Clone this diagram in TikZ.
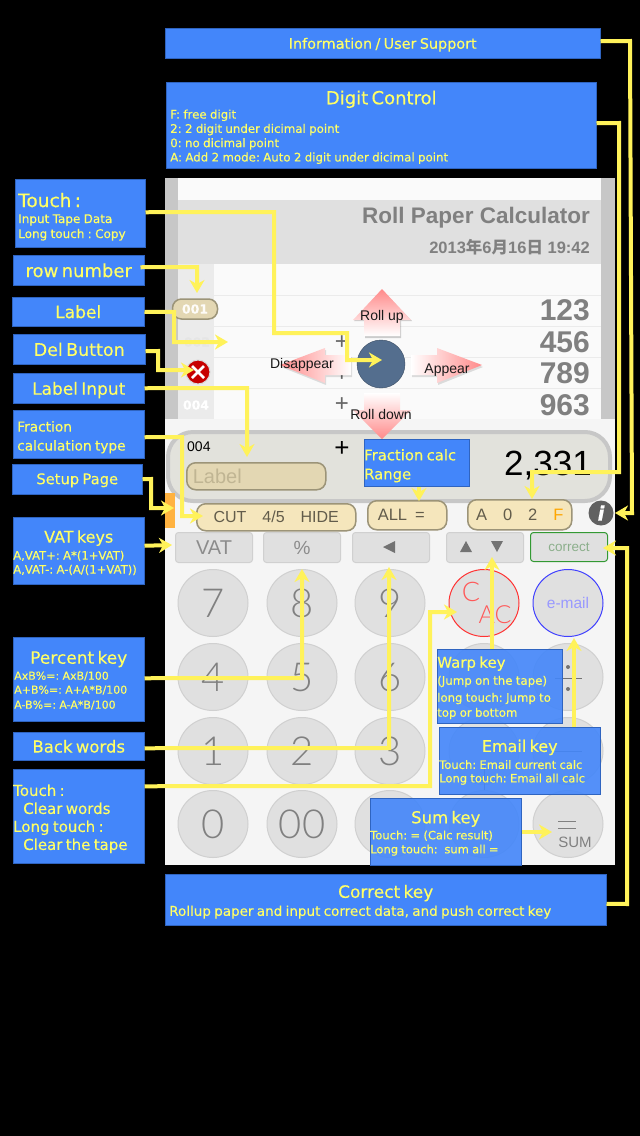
\documentclass[tikz,border=0pt]{standalone}
\usepackage{fontspec}
\setmainfont{DejaVu Sans}[FakeBold=0.25]
\newfontfamily\hv{Liberation Sans}
\newfontfamily\cjkf{Noto Sans CJK JP}
\newfontfamily\thinf{Lato Light}
\usetikzlibrary{arrows.meta,shapes.geometric}
\frenchspacing
\definecolor{boxblue}{HTML}{4386FA}
\definecolor{boxedge}{HTML}{2F64C0}
\definecolor{ytext}{HTML}{FFFF66}
\definecolor{yline}{HTML}{FFF25A}
\definecolor{pill}{HTML}{F5E6BC}
\definecolor{pilledge}{HTML}{9C9478}
\definecolor{keyg}{HTML}{E0E0E0}
\definecolor{keye}{HTML}{D0D0D0}
\definecolor{pinkt}{HTML}{FF8A8A}
\definecolor{panel}{HTML}{E2E2DC}
\definecolor{steel}{HTML}{546E8E}
\newcommand\boxhead[3]{{\fontsize{#1}{#2}\selectfont\makebox[\hsize][c]{#3}\par}}
\newcommand\boxline[3]{{\fontsize{#1}{#2}\selectfont #3\par}}
\newcommand\fsz[2]{\fontsize{#1}{#2}\selectfont}
\newcommand\vs[1]{\vspace*{-#1pt}}
\tikzset{
 bx/.style={fill=boxblue,draw=boxedge,line width=.5pt,text=ytext,inner xsep=2pt,inner ysep=0pt,anchor=north west,align=left},
 bxt/.style={bx,fill opacity=.9,text opacity=1},
 arw/.style={draw=yline,line width=4pt,-{Stealth[length=13pt,width=15pt,inset=4pt]}},
 pillk/.style={draw=pilledge,fill=pill,line width=1.5pt,rounded corners=9pt,inner sep=0pt,anchor=north west},
 sqk/.style={draw=keye,fill=keyg,line width=1pt,rounded corners=3pt,inner sep=0pt,anchor=north west,minimum width=77pt,minimum height=30pt,text=black!45},
 rk/.style={ellipse,draw=keye,fill=keyg,line width=1pt,inner sep=0pt,minimum width=70pt,minimum height=67pt,text=black!50,font=\thinf\fsz{40}{40}},
 num/.style={anchor=east,inner sep=0pt,text=black!50,font=\hv\bfseries\fsz{30}{30}},
 rown/.style={inner sep=0pt,text=white,font=\bfseries\fsz{12.5}{14}},
 plusg/.style={inner sep=0pt,text=black!60,font=\hv\fsz{24}{24}},
 arrowcap/.style={inner sep=0pt,text=black!90,font=\hv\fsz{14}{14}},
}
\begin{document}
\begin{tikzpicture}[x=1pt,y=-1pt]
\path[use as bounding box,fill=black] (0,0) rectangle (640,1136);
% screen
\fill[white!96!black] (165,178) rectangle (615,865);
\fill[white!78!black] (165,178) rectangle (178,419);
\fill[white!78!black] (601,178) rectangle (615,419);
\fill[white!98!black] (178,178) rectangle (601,200);
\fill[white!88!black] (178,200) rectangle (601,264);
\fill[white!98!black] (178,264) rectangle (601,419);
\fill[white!92!black] (178,264) rectangle (214,419);
\foreach \yy in {295,326,357,388} \draw[white!92!black,line width=1pt] (214,\yy) -- (601,\yy);
\node[anchor=east,inner sep=0pt,text=black!50,font=\hv\bfseries\fsz{22.5}{24}] (title) at (590,218) {Roll Paper Calculator};
\node[anchor=east,inner sep=0pt,text=black!50,font=\hv\bfseries\fsz{16.5}{18}] (date) at (590,247) {2013{\cjkf\bfseries 年}6{\cjkf\bfseries 月}16{\cjkf\bfseries 日} 19:42};
\node[num] (n1) at (590,310) {123};
\node[num] (n2) at (590,342) {456};
\node[num] (n3) at (590,373) {789};
\node[num] (n4) at (590,405) {963};
\node[plusg] (p2) at (342,343) {+};
\node[plusg] (p3) at (342,375) {+};
\node[plusg] (p4) at (342,405) {+};
\node[rown,text=white!90!black] (r2) at (197,342) {002};
\node[rown] (r4) at (196,405) {004};
\node[draw=pilledge,fill=pill!85!gray,line width=1.5pt,rounded corners=9pt,minimum width=45pt,minimum height=20pt,inner sep=0pt,text=white!90!pill,font=\bfseries\fsz{12.5}{14}] (r1) at (195,309) {001};
\node[circle,draw=white!85!black,fill=red!78!black,line width=1pt,minimum size=24pt,inner sep=0pt] (del) at (198,372) {};
\draw[white,line width=2.5pt] (192,366) -- (204,378) (204,366) -- (192,378);
% display panel
\draw[draw=white!78!black,fill=panel,line width=4pt,rounded corners=25pt] (168,432) rectangle (610,501);
\node[anchor=west,inner sep=0pt,text=black,font=\hv\fsz{14}{14}] (d4) at (187,447) {004};
\node[inner sep=0pt,text=black,font=\hv\fsz{26}{26}] (dp) at (342,449) {+};
\node[anchor=east,inner sep=0pt,text=black,font=\hv\fsz{35}{35}] (disp) at (592,466) {2,331};
\node[pillk,draw=pilledge,fill=pill!85!gray,minimum width=139pt,minimum height=27pt,text=pilledge!60!pill,font=\hv\fsz{20}{20}] (lbl) at (186,462) {\hspace*{-78pt}Label};
\node[pillk,minimum width=159pt,minimum height=27pt,text=black!60!pill,font=\hv\fsz{16}{18}] (cut) at (196,503) {CUT\hspace{16pt}4/5\hspace{16pt}HIDE};
\node[pillk,minimum width=79pt,minimum height=29pt,text=black!60!pill,font=\hv\fsz{16.5}{18}] (all) at (367,500) {\hspace*{-12pt}ALL\hspace{8pt}=};
\node[pillk,minimum width=104pt,minimum height=30pt,text=black!60!pill,font=\hv\fsz{16.5}{18}] (digit) at (467,499) {A\hspace{16pt}0\hspace{16pt}2\hspace{16pt}\textcolor{orange!70!yellow}{F}};
\fill[orange!80!yellow!75] (165,493) rectangle (175,528);
\node[circle,fill=black!62,minimum size=25pt,inner sep=0pt,text=white,font=\bfseries\itshape\fsz{20}{20}] (info) at (601,513) {i};
% keys
\node[sqk,font=\hv\fsz{20}{21}] (vat) at (175,532) {VAT};
\node[sqk,font=\hv\fsz{19}{19}] (pct) at (263,532) {\%};
\node[sqk] (back) at (352,532) {};
\fill[black!55] (383,547) -- (395,541) -- (395,553) -- cycle;
\node[sqk] (warpk) at (446,532) {};
\fill[black!55] (466,541) -- (472,552) -- (460,552) -- cycle;
\fill[black!55] (491,541) -- (503,541) -- (497,552) -- cycle;
\node[sqk,draw=green!50!black!80,text=green!30!black!45,font=\hv\fsz{13.5}{15},minimum height=29pt] (corr) at (530,532) {correct};
\node[rk] (k7) at (213,603) {7};
\node[rk] (k8) at (302,603) {8};
\node[rk] (k9) at (390,603) {9};
\node[rk,draw=red!80] (kc) at (484,603) {};
\node[rk,draw=blue!75,text=blue!40!white,font=\hv\fsz{15.5}{17}] (kmail) at (568,603) {e-mail};
\node[inner sep=0pt,text=red!65!white,font=\thinf\fsz{27}{27}] (kcc) at (471,592) {C};
\node[inner sep=0pt,text=red!65!white,font=\thinf\fsz{25}{25}] (kac) at (495,615) {AC};
\node[rk] (k4) at (213,677) {4};
\node[rk] (k5) at (302,677) {5};
\node[rk] (k6) at (390,677) {6};
\node[rk] (kx) at (484,677) {};
\node[rk] (kd) at (568,677) {};
\draw[black!55,line width=.7pt] (555,678) -- (582,678);
\fill[black!55] (568,667) circle (2pt) (568,689) circle (2pt);
\node[rk] (k1) at (213,751) {1};
\node[rk] (k2) at (302,751) {2};
\node[rk] (k3) at (390,751) {3};
\node[rk] (km) at (484,751) {};
\node[rk] (kmin) at (568,751) {};
\draw[black!55,line width=.7pt] (555,751) -- (582,751);
\draw[black!55,line width=.7pt] (470,780) -- (498,780) (484,766) -- (484,798);
\node[rk] (k0) at (213,824) {0};
\node[rk] (k00) at (302,824) {00};
\node[rk] (kdot) at (390,824) {};
\node[rk] (kpt) at (484,824) {};
\node[rk] (ksum) at (568,824) {};
\draw[black!50,line width=1pt] (558,821) -- (576,821) (558,828) -- (576,828);
\node[inner sep=0pt,text=black!50,font=\hv\fsz{15}{15}] (sumt) at (575,842) {SUM};
% pink arrows
\fill[black,opacity=.18] (383,291) -- (412,321) -- (401,321) -- (401,338) -- (365,338) -- (365,321) -- (354,321) -- cycle;
\shade[top color=pinkt,bottom color=white] (382,289) -- (411,320) -- (400,320) -- (400,336) -- (364,336) -- (364,320) -- (353,320) -- cycle;
\fill[black,opacity=.12] (412,357) -- (438,357) -- (438,350) -- (483,367) -- (438,385) -- (438,377) -- (412,377) -- cycle;
\shade[left color=white,right color=pinkt] (411,355) -- (437,355) -- (437,348) -- (482,365) -- (437,383) -- (437,375) -- (411,375) -- cycle;
\fill[black,opacity=.12] (352,357) -- (326,357) -- (326,350) -- (281,367) -- (326,385) -- (326,377) -- (352,377) -- cycle;
\shade[right color=white,left color=pinkt] (351,355) -- (325,355) -- (325,348) -- (280,365) -- (325,383) -- (325,375) -- (351,375) -- cycle;
\shade[bottom color=pinkt,top color=white] (364,393) -- (400,393) -- (400,410) -- (411,410) -- (382,439) -- (353,410) -- (364,410) -- cycle;
\node[circle,draw=steel!70!black,fill=steel,minimum size=48pt,inner sep=0pt] (ball) at (381,364) {};
\node[arrowcap] (rup) at (382,317) {Roll up};
\node[arrowcap] (rdown) at (381,414) {Roll down};
\node[arrowcap] (disap) at (302,365) {Disappear};
\node[arrowcap] (app) at (447,370) {Appear};
% label boxes
\node[bx,text width=126pt,minimum height=68pt] (bTouch) at (15,179) {\boxline{18.5}{20}{\hspace{1pt}Touch :}\boxline{12}{16}{\hspace{1pt}Input Tape Data}\boxline{12}{15}{\hspace{1pt}Long touch : Copy}\vs{7}};
\node[bx,text width=127pt,minimum height=30pt] (bRow) at (13,255) {\boxhead{18}{20}{row number}\vs{2}};
\node[bx,text width=128pt,minimum height=29pt] (bLabel) at (12,297) {\boxhead{17}{20}{Label}};
\node[bx,text width=128pt,minimum height=30pt] (bDel) at (13,334) {\boxhead{17.5}{20}{Del Button}\vs{2}};
\node[bx,text width=127pt,minimum height=30pt] (bInput) at (13,373) {\boxhead{17}{20}{Label Input}\vs{4}};
\node[bx,text width=127pt,minimum height=48pt] (bFrac) at (13,410) {\boxline{13.7}{19}{\hspace{2pt}Fraction}\boxline{13.7}{19}{\hspace{2pt}calculation type}\vs{6}};
\node[bx,text width=126pt,minimum height=30pt] (bSetup) at (12,464) {\boxhead{14.7}{18}{Setup Page}\vs{2}};
\node[bx,inner xsep=0pt,text width=131pt,minimum height=67pt] (bVat) at (13,517) {\boxhead{16}{18}{VAT keys}\boxline{11.6}{17}{A,VAT+: A*(1+VAT)}\boxline{11.6}{14}{A,VAT-: A-(A/(1+VAT))}\vs{4}};
\node[bx,inner xsep=0pt,text width=131pt,minimum height=84pt] (bPct) at (13,637) {\boxhead{17}{18}{Percent key}\boxline{11}{16}{\hspace{1pt}AxB\%=: AxB/100}\boxline{11}{14}{\hspace{1pt}A+B\%=: A+A*B/100}\boxline{11}{15}{\hspace{1pt}A-B\%=: A-A*B/100}\vs{2}};
\node[bx,text width=127pt,minimum height=28pt] (bBack) at (13,732) {\boxhead{16.5}{20}{Back words}\vs{2}};
\node[bx,inner xsep=0pt,text width=131pt,minimum height=94pt] (bClear) at (13,769) {\boxline{15}{18}{Touch :}\boxline{15}{18}{\hspace{10pt}Clear words}\boxline{15}{18}{Long touch :}\boxline{15}{18}{\hspace{10pt}Clear the tape}\vs{5}};
\node[bx,text width=431pt,minimum height=30pt] (bInfo) at (165,28) {\boxhead{14.4}{16}{Information / User Support}\vs{4}};
\node[bx,text width=426pt,minimum height=86pt] (bDigit) at (166,82) {\boxhead{18}{21}{Digit Control}\boxline{11.8}{14.3}{\hspace{2pt}F: free digit}\boxline{11.8}{14.3}{\hspace{2pt}2: 2 digit under dicimal point}\boxline{11.8}{14.3}{\hspace{2pt}0: no dicimal point}\boxline{11.8}{14.3}{\hspace{2pt}A: Add 2 mode: Auto 2 digit under dicimal point}\vs{4}};
\node[bx,inner xsep=0pt,text width=105pt,minimum height=47pt] (bRange) at (364,439) {\boxline{14.8}{19}{Fraction calc}\boxline{14.8}{19}{Range}\vs{6}};
\node[bxt,inner xsep=0pt,text width=125pt,minimum height=74pt] (bWarp) at (437,649) {\boxline{15}{18}{Warp key}\boxline{11.8}{17}{(Jump on the tape)}\boxline{11.7}{17}{long touch: Jump to}\boxline{11.7}{15}{top or bottom}\vs{3}};
\node[bxt,inner xsep=0pt,text width=161pt,minimum height=67pt] (bEmail) at (439,727) {\boxhead{16}{20}{Email key}\boxline{11.5}{17}{Touch: Email current calc}\boxline{11.5}{13.5}{Long touch: Email all calc}\vs{3}};
\node[bxt,inner xsep=0pt,text width=151pt,minimum height=67pt] (bSum) at (370,798) {\boxhead{16.5}{20}{Sum key}\boxline{11.5}{16}{Touch: = (Calc result)}\boxline{11.5}{14}{Long touch:\ \ sum all =}\vs{3}};
\node[bx,text width=437pt,minimum height=51pt] (bCorr) at (165,874) {\boxhead{17}{20}{Correct key}\boxline{13.5}{18}{\hspace{2pt}Rollup paper and input correct data, and push correct key}\vs{4}};
% arrow tips
\coordinate (tBall) at (382,360);
\coordinate (tRow) at (197,293);
\coordinate (tLabel) at (228,342);
\coordinate (tDel) at (194,370);
\coordinate (tLbl) at (247,457);
\coordinate (tCut) at (203,516);
\coordinate (tOrange) at (174,508);
\coordinate (tVat) at (172,545);
\coordinate (tPct) at (302,569);
\coordinate (tBack) at (389,567);
\coordinate (tClear) at (457,612);
\coordinate (tAll) at (419,501);
\coordinate (tWarp) at (492,557);
\coordinate (tMail) at (574,638);
\coordinate (tSum) at (552,832);
\coordinate (tCorr) at (603,548);
\coordinate (tDigit) at (532,499);
\coordinate (tInfo) at (615,513);
% connectors
\draw[arw] ([yshift=1pt]bTouch.east) -- (274,212) -- (274,333) -- (347,333) -- (347,360) -- (tBall);
\draw[arw] ([xshift=-4pt,yshift=3pt]bRow.east) -- (197,267) -- (tRow);
\draw[arw] ([yshift=0pt]bLabel.east) -- (174,312) -- (174,342) -- (tLabel);
\draw[arw] ([yshift=-2pt]bDel.east) -- (158,351) -- (158,370) -- (tDel);
\draw[arw] (bInput.east) -- (247,388) -- (tLbl);
\draw[arw] ([yshift=-3pt]bFrac.east) -- (182,437) -- (182,516) -- (tCut);
\draw[arw] (bSetup.east) -- (151,479) -- (151,508) -- (tOrange);
\draw[arw] ([yshift=5pt]bVat.east) -- (tVat);
\draw[arw] ([yshift=1pt]bPct.east) -- (302,678) -- (tPct);
\draw[arw] ([yshift=-2pt]bBack.east) -- (389,748) -- (tBack);
\draw[arw] ([yshift=30pt]bClear.east) -- (430,786) -- (430,612) -- (tClear);
\draw[arw] (bRange.south -| tAll) -- (tAll);
\draw[arw] (bWarp.north -| tWarp) -- (tWarp);
\draw[arw] (bEmail.north -| tMail) -- (tMail);
\draw[arw] (bSum.east |- tSum) -- (tSum);
\draw[arw] ([yshift=-4pt]bCorr.east) -- (627,904) -- (627,548) -- (tCorr);
\draw[arw] ([yshift=2pt]bDigit.east) -- (619,123) -- (619,472) -- (532,472) -- (tDigit);
\draw[arw] ([yshift=2pt]bInfo.east) -- (630,41) -- (632,513) -- (tInfo);
\end{tikzpicture}
\end{document}
